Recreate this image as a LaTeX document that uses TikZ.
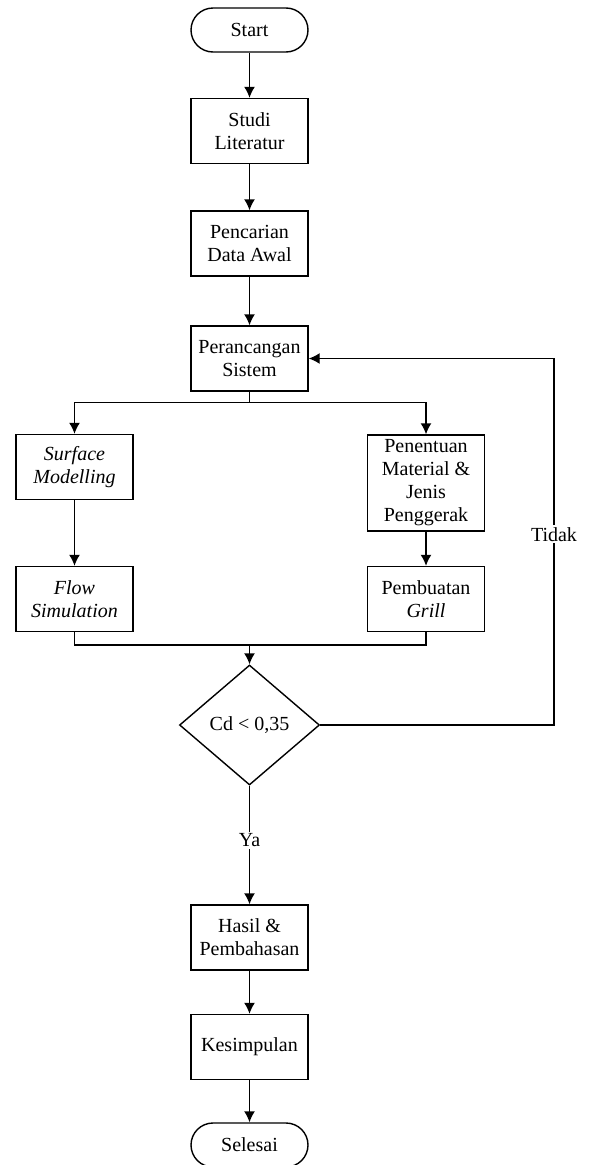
\documentclass[tikz,border=0pt]{standalone}
\usepackage{fontspec}
\setmainfont{Liberation Serif}
\usetikzlibrary{arrows.meta,shapes.geometric}

\begin{document}
\begin{tikzpicture}[x=1pt,y=-1pt,>={Latex[length=11pt,width=11pt]},
    line width=1.4pt,font=\fontsize{20}{23}\selectfont,
    proses/.style={draw,align=center,minimum width=117pt,minimum height=65pt,inner sep=0pt},
    terminal/.style={draw,rounded corners=22pt,minimum width=117pt,minimum height=44pt,inner sep=0pt},
    keputusan/.style={draw,diamond,aspect=1.1667,minimum width=140pt,minimum height=120pt,inner sep=0pt},
    label/.style={fill=white,inner sep=2pt}]
    \useasboundingbox (0,0) rectangle (590,1165);
    \node[terminal] (start) at (249.5,30) {Start};
    \node[proses] (studi) at (249.5,131) {Studi\\Literatur};
    \node[proses] (data) at (249.5,243.5) {Pencarian\\Data Awal};
    \node[proses] (rancang) at (249.5,358.5) {Perancangan\\Sistem};
    \node[proses] (surface) at (74.5,467) {\textit{Surface}\\\textit{Modelling}};
    \node[proses,minimum height=96pt] (material) at (426,483) {Penentuan\\Material \&\\Jenis\\Penggerak};
    \node[proses] (flow) at (74.5,599) {\textit{Flow}\\\textit{Simulation}};
    \node[proses] (grill) at (426,599) {Pembuatan\\\textit{Grill}};
    \node[keputusan] (cek) at (249.5,725) {Cd < 0,35};
    \node[proses] (hasil) at (249.5,937.5) {Hasil \&\\Pembahasan};
    \node[proses] (simpul) at (249.5,1047) {Kesimpulan};
    \node[terminal] (selesai) at (249.5,1145) {Selesai};
    \coordinate (gabung) at (249.5,645);
    \coordinate (balik) at (554,725);

    \draw[->] (start) -- (studi);
    \draw[->] (studi) -- (data);
    \draw[->] (data) -- (rancang);
    \draw[->] (rancang.south) -- ++(0,11) -| (surface.north);
    \draw[->] (rancang.south) -- ++(0,11) -| (material.north);
    \draw[->] (surface) -- (flow);
    \draw[->] (material) -- (grill);
    \draw (flow.south) |- (gabung) -| (grill.south);
    \draw[->] (gabung) -- (cek.north);
    \draw[->] (cek.east) -- (balik) |- (rancang.east) node[pos=0.26,label]{Tidak};
    \draw[->] (cek.south) -- (hasil.north) node[pos=0.46,label]{Ya};
    \draw[->] (hasil) -- (simpul);
    \draw[->] (simpul) -- (selesai);
\end{tikzpicture}
\end{document}
